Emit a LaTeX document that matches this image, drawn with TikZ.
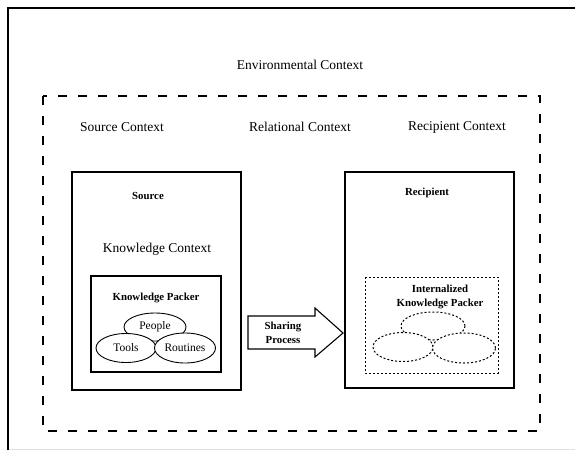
\documentclass[tikz,border=0pt]{standalone}
\usepackage{fontspec}
\setmainfont{Liberation Serif}
\usetikzlibrary{shapes.geometric}

\tikzset{
  ctxlabel/.style={font=\fontsize{13.5}{15}\selectfont},
  boldlabel/.style={font=\fontsize{10.8}{14.5}\selectfont\bfseries, align=center},
  part/.style={ellipse, draw, line width=0.9pt, fill=white, inner sep=0pt, font=\fontsize{11.5}{12}\selectfont},
  ghost/.style={ellipse, draw, line width=1pt, fill=white, dash pattern=on 2pt off 2pt},
}

\begin{document}
\begin{tikzpicture}[x=1pt,y=-1pt]
\useasboundingbox (0,0) rectangle (575,450);
% frame
\draw[black!12,line width=0.8pt] (8,449) -- (575,449);
\draw[line width=2pt] (8,450) -- (8,8) -- (575,8);
\node[ctxlabel] (env) at (300,65) {Environmental Context};

% context area
\draw[line width=1.6pt, dash pattern=on 9pt off 11pt] (43,96) rectangle (540,431);
\node[ctxlabel] (srcctx) at (122,127) {Source Context};
\node[ctxlabel] (relctx) at (300,127) {Relational Context};
\node[ctxlabel] (recctx) at (457,127) {Recipient Context};

% source side
\draw[line width=1.6pt] (72,172) rectangle (241,390);
\node[boldlabel] (src) at (148,196) {Source};
\node[ctxlabel] (kctx) at (157,249) {Knowledge Context};
\draw[line width=1.1pt] (91,276) rectangle (221,372);
\node[boldlabel] (kp) at (156,298) {Knowledge Packer};
\node[part, minimum width=62pt, minimum height=28pt] (people) at (155,327) {People};
\node[part, minimum width=60pt, minimum height=29pt] (tools) at (126,348) {Tools};
\node[part, minimum width=61pt, minimum height=30pt] (routines) at (185,348) {Routines};

% transfer
\draw[line width=1.1pt] (248,316) -- (315,316) -- (315,308) -- (343,333)
  -- (315,357) -- (315,349) -- (248,349) -- cycle;
\node[boldlabel] (share) at (283,333) {Sharing\\Process};

% recipient side
\draw[line width=1.6pt] (345,172) rectangle (514,388);
\node[boldlabel] (rec) at (427,193) {Recipient};
\draw[line width=1pt, dash pattern=on 2pt off 2pt] (365,277) rectangle (498,373);
\node[boldlabel] (ikp) at (440,297) {Internalized\\Knowledge Packer};
\node[ghost, minimum width=64pt, minimum height=28pt] (g1) at (433,326) {};
\node[ghost, minimum width=60pt, minimum height=29pt] (g2) at (403,347) {};
\node[ghost, minimum width=63pt, minimum height=30pt] (g3) at (464,348) {};
\end{tikzpicture}
\end{document}
